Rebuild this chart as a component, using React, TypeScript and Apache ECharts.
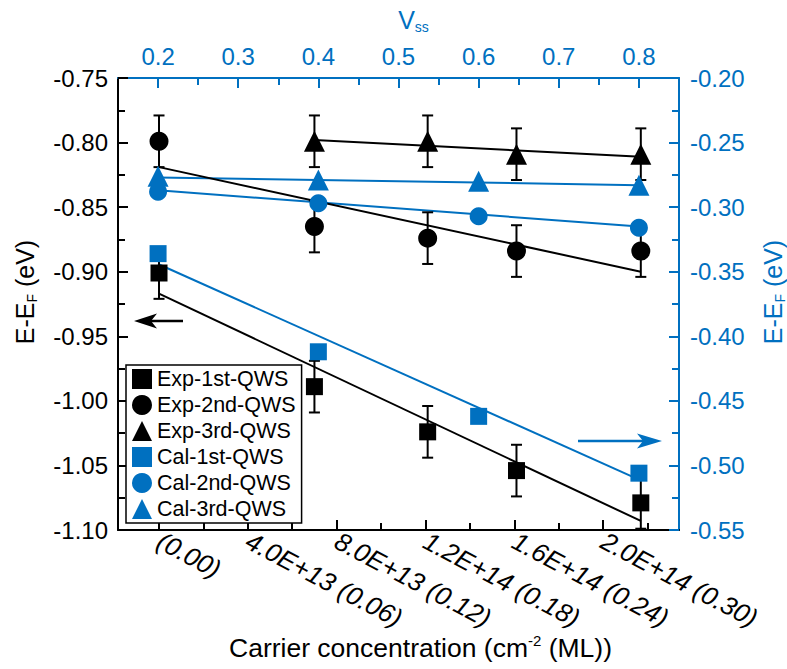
import React, { useEffect, useRef } from "react";
import * as echarts from "echarts";

const BLUE = "#0070C0";
const FONT = "Liberation Sans, Arial, sans-serif";

// Bottom axis: carrier concentration (cm^-2)
const concTicks = [0, 4e13, 8e13, 1.2e14, 1.6e14, 2.0e14];
const concTickLabels = [
  "(0.00)",
  "4.0E+13 (0.06)",
  "8.0E+13 (0.12)",
  "1.2E+14 (0.18)",
  "1.6E+14 (0.24)",
  "2.0E+14 (0.30)",
];
const concMinorTicks = [2e13, 6e13, 1.0e14, 1.4e14, 1.8e14, 2.2e14];
// Top axis: V_ss
const vTicks = [0.2, 0.3, 0.4, 0.5, 0.6, 0.7, 0.8];
const vMinorTicks = [0.25, 0.35, 0.45, 0.55, 0.65, 0.75];

// Experimental data (bottom / left axes)
const expConc = [0, 7.0e13, 1.21e14, 1.61e14, 2.17e14];
const exp1st = [-0.901, -0.989, -1.024, -1.054, -1.079];
const exp2nd = [-0.799, -0.865, -0.874, -0.884, -0.884];
const exp3rdConc = [7.0e13, 1.21e14, 1.61e14, 2.17e14];
const exp3rd = [-0.799, -0.799, -0.809, -0.809];
const expErr = 0.02;

// Calculated data (top / right axes)
const calV = [0.2, 0.4, 0.6, 0.8];
const cal1st = [-0.336, -0.412, -0.462, -0.506];
const cal2nd = [-0.288, -0.297, -0.307, -0.316];
const cal3rd = [-0.276, -0.279, -0.280, -0.283];

// Linear fits (end points)
const expFitConc = [0, 2.17e14];
const exp1stFit = [-0.917, -1.093];
const exp2ndFit = [-0.819, -0.900];
const exp3rdFitConc = [7.0e13, 2.17e14];
const exp3rdFit = [-0.798, -0.811];
const calFitV = [0.2, 0.8];
const cal1stFit = [-0.344, -0.511];
const cal2ndFit = [-0.287, -0.315];
const cal3rdFit = [-0.277, -0.283];

const CONC_MIN = -1.847e13;
const CONC_MAX = 2.342e14;

const zip = (xs: number[], ys: number[]) => xs.map((x, i) => [x, ys[i]]);

export default function App() {
  const ref = useRef<HTMLDivElement>(null);
  useEffect(() => {
    if (!ref.current) return;
    const chart = echarts.init(ref.current, undefined, { renderer: "svg" });

    const errData: number[][] = [];
    expConc.forEach((x, i) => {
      errData.push([x, exp1st[i] - expErr, exp1st[i] + expErr]);
      errData.push([x, exp2nd[i] - expErr, exp2nd[i] + expErr]);
    });
    exp3rdConc.forEach((x, i) => {
      errData.push([x, exp3rd[i] - expErr, exp3rd[i] + expErr]);
    });

    const tickLabelStyle = { fontFamily: FONT, fontSize: 24 };

    const scatter = (
      name: string,
      data: number[][],
      symbol: string,
      size: number,
      color: string,
      xi: number,
      yi: number
    ) => ({
      name,
      type: "scatter",
      xAxisIndex: xi,
      yAxisIndex: yi,
      data,
      symbol,
      symbolSize: size,
      itemStyle: { color, opacity: 1 },
      z: 5,
      emphasis: { disabled: true },
    });

    const fit = (data: number[][], color: string, xi: number, yi: number) => ({
      type: "line",
      xAxisIndex: xi,
      yAxisIndex: yi,
      data,
      showSymbol: false,
      symbol: "none",
      lineStyle: { color, width: 2 },
      z: 3,
      silent: true,
    });

    chart.setOption({
      animation: false,
      backgroundColor: "#fff",
      textStyle: { fontFamily: FONT },
      grid: {
        left: 118,
        right: 108,
        top: 78,
        bottom: 139,
        containLabel: false,
        outerBoundsMode: "none",
      },
      legend: {
        orient: "vertical",
        left: 126,
        top: 365,
        data: ["Exp-1st-QWS", "Exp-2nd-QWS", "Exp-3rd-QWS", "Cal-1st-QWS", "Cal-2nd-QWS", "Cal-3rd-QWS"],
        itemWidth: 20,
        itemHeight: 20,
        itemGap: 4,
        padding: [3, 6, 3, 6],
        borderColor: "#000",
        borderWidth: 1.5,
        borderRadius: 0,
        backgroundColor: "#fff",
        selectedMode: false,
        textStyle: { fontFamily: FONT, fontSize: 21.5, color: "#000", lineHeight: 21 },
        z: 10,
      },
      xAxis: [
        {
          type: "value",
          position: "bottom",
          min: CONC_MIN,
          max: CONC_MAX,
          name: "Carrier concentration (cm{sup|-2} (ML))",
          nameLocation: "middle",
          nameGap: 103,
          nameMoveOverlap: false,
          nameTextStyle: {
            fontFamily: FONT,
            fontSize: 26.5,
            color: "#000",
            padding: [0, 0, 0, 44],
            lineHeight: 29,
            rich: {
              sup: { fontFamily: FONT, fontSize: 15, verticalAlign: "top", lineHeight: 15, color: "#000" },
            },
          },
          axisLine: { show: true, onZero: false, lineStyle: { color: "#000", width: 2 } },
          axisTick: { show: true, inside: true, length: 10, lineStyle: { color: "#000", width: 2 }, customValues: concTicks },
          axisLabel: {
            show: true,
            rotate: -28,
            margin: 9,
            color: "#000",
            fontFamily: FONT,
            fontSize: 26,
            fontStyle: "italic",
            customValues: concTicks,
            formatter: (v: number) => {
              const i = Math.round(v / 4e13);
              return concTickLabels[i] ?? "";
            },
          },
          splitLine: { show: false },
        },
        {
          type: "value",
          position: "top",
          min: 0.15,
          max: 0.85,
          name: "V{sub|ss}",
          nameLocation: "middle",
          nameGap: 44,
          nameMoveOverlap: false,
          nameTextStyle: {
            fontFamily: FONT,
            fontSize: 25,
            color: BLUE,
            padding: [0, 0, 0, 30],
            lineHeight: 28,
            rich: {
              sub: { fontFamily: FONT, fontSize: 14, verticalAlign: "bottom", lineHeight: 14, color: BLUE },
            },
          },
          axisLine: { show: true, onZero: false, lineStyle: { color: BLUE, width: 2 } },
          axisTick: { show: true, inside: true, length: 10, lineStyle: { color: BLUE, width: 2 }, customValues: vTicks },
          axisLabel: {
            show: true,
            margin: 10,
            color: BLUE,
            ...tickLabelStyle,
            customValues: vTicks,
            formatter: (v: number) => v.toFixed(1),
          },
          splitLine: { show: false },
        },
        {
          type: "value",
          position: "bottom",
          min: CONC_MIN,
          max: CONC_MAX,
          axisLine: { show: false },
          axisTick: { show: true, inside: true, length: 7, lineStyle: { color: "#000", width: 2 }, customValues: concMinorTicks },
          axisLabel: { show: false },
          splitLine: { show: false },
        },
        {
          type: "value",
          position: "top",
          min: 0.15,
          max: 0.85,
          axisLine: { show: false },
          axisTick: { show: true, inside: true, length: 7, lineStyle: { color: BLUE, width: 2 }, customValues: vMinorTicks },
          axisLabel: { show: false },
          splitLine: { show: false },
        },
      ],
      yAxis: [
        {
          type: "value",
          position: "left",
          min: -1.1,
          max: -0.75,
          interval: 0.05,
          name: "E-E{sub|F} (eV)",
          nameLocation: "middle",
          nameRotate: 90,
          nameGap: 79,
          nameMoveOverlap: false,
          nameTextStyle: {
            fontFamily: FONT,
            fontSize: 25,
            color: "#000",
            lineHeight: 28,
            padding: [0, 0, 0, 24],
            rich: {
              sub: { fontFamily: FONT, fontSize: 14, verticalAlign: "bottom", lineHeight: 14, color: "#000" },
            },
          },
          axisLine: { show: true, onZero: false, lineStyle: { color: "#000", width: 2 } },
          axisTick: { show: true, inside: true, length: 10, lineStyle: { color: "#000", width: 2 } },
          minorTick: { show: true, splitNumber: 2, length: 7, lineStyle: { color: "#000", width: 2 } },
          axisLabel: { show: true, margin: 10, color: "#000", ...tickLabelStyle, formatter: (v: number) => v.toFixed(2) },
          splitLine: { show: false },
          minorSplitLine: { show: false },
        },
        {
          type: "value",
          position: "right",
          min: -0.55,
          max: -0.2,
          interval: 0.05,
          name: "E-E{sub|F} (eV)",
          nameLocation: "middle",
          nameRotate: 90,
          nameGap: 80,
          nameMoveOverlap: false,
          nameTextStyle: {
            fontFamily: FONT,
            fontSize: 25,
            color: BLUE,
            lineHeight: 28,
            padding: [0, 0, 0, 24],
            rich: {
              sub: { fontFamily: FONT, fontSize: 14, verticalAlign: "bottom", lineHeight: 14, color: BLUE },
            },
          },
          axisLine: { show: true, onZero: false, lineStyle: { color: BLUE, width: 2 } },
          axisTick: { show: true, inside: true, length: 10, lineStyle: { color: BLUE, width: 2 } },
          minorTick: { show: true, splitNumber: 2, length: 7, lineStyle: { color: BLUE, width: 2 } },
          axisLabel: { show: true, margin: 11, color: BLUE, ...tickLabelStyle, formatter: (v: number) => v.toFixed(2) },
          splitLine: { show: false },
          minorSplitLine: { show: false },
        },
      ],
      series: [
        fit(zip(calFitV, cal1stFit), BLUE, 1, 1),
        fit(zip(calFitV, cal2ndFit), BLUE, 1, 1),
        fit(zip(calFitV, cal3rdFit), BLUE, 1, 1),
        fit(zip(expFitConc, exp1stFit), "#000", 0, 0),
        fit(zip(expFitConc, exp2ndFit), "#000", 0, 0),
        fit(zip(exp3rdFitConc, exp3rdFit), "#000", 0, 0),
        {
          type: "custom",
          xAxisIndex: 0,
          yAxisIndex: 0,
          data: errData,
          encode: { x: 0, y: [1, 2] },
          z: 4,
          silent: true,
          renderItem: (params: any, api: any) => {
            const x = api.value(0);
            const lo = api.value(1);
            const hi = api.value(2);
            const top = api.coord([x, hi]);
            const bot = api.coord([x, lo]);
            const cap = 5.5;
            const style = { stroke: "#000", lineWidth: 2 };
            return {
              type: "group",
              children: [
                { type: "line", shape: { x1: top[0], y1: top[1], x2: bot[0], y2: bot[1] }, style },
                { type: "line", shape: { x1: top[0] - cap, y1: top[1], x2: top[0] + cap, y2: top[1] }, style },
                { type: "line", shape: { x1: bot[0] - cap, y1: bot[1], x2: bot[0] + cap, y2: bot[1] }, style },
              ],
            };
          },
        },
        scatter("Exp-1st-QWS", zip(expConc, exp1st), "rect", 17, "#000", 0, 0),
        scatter("Exp-2nd-QWS", zip(expConc, exp2nd), "circle", 19, "#000", 0, 0),
        scatter("Exp-3rd-QWS", zip(exp3rdConc, exp3rd), "triangle", 21, "#000", 0, 0),
        scatter("Cal-1st-QWS", zip(calV, cal1st), "rect", 17, BLUE, 1, 1),
        scatter("Cal-2nd-QWS", zip(calV, cal2nd), "circle", 18, BLUE, 1, 1),
        scatter("Cal-3rd-QWS", zip(calV, cal3rd), "triangle", 21, BLUE, 1, 1),
      ],
      graphic: [
        {
          type: "line",
          shape: { x1: 150, y1: 321, x2: 183, y2: 321 },
          style: { stroke: "#000", lineWidth: 2.5 },
          z: 20,
        },
        {
          type: "polygon",
          shape: { points: [[134, 321], [157, 313.5], [151, 321], [157, 328.5]] },
          style: { fill: "#000" },
          z: 20,
        },
        {
          type: "line",
          shape: { x1: 578, y1: 441, x2: 645, y2: 441 },
          style: { stroke: BLUE, lineWidth: 2.5 },
          z: 20,
        },
        {
          type: "polygon",
          shape: { points: [[662, 441], [637, 433.5], [643, 441], [637, 448.5]] },
          style: { fill: BLUE },
          z: 20,
        },
      ],
    });

    return () => chart.dispose();
  }, []);

  return (
    <div
      ref={ref}
      style={{ position: "absolute", left: 0, top: 0, width: 787, height: 669 }}
    />
  );
}
